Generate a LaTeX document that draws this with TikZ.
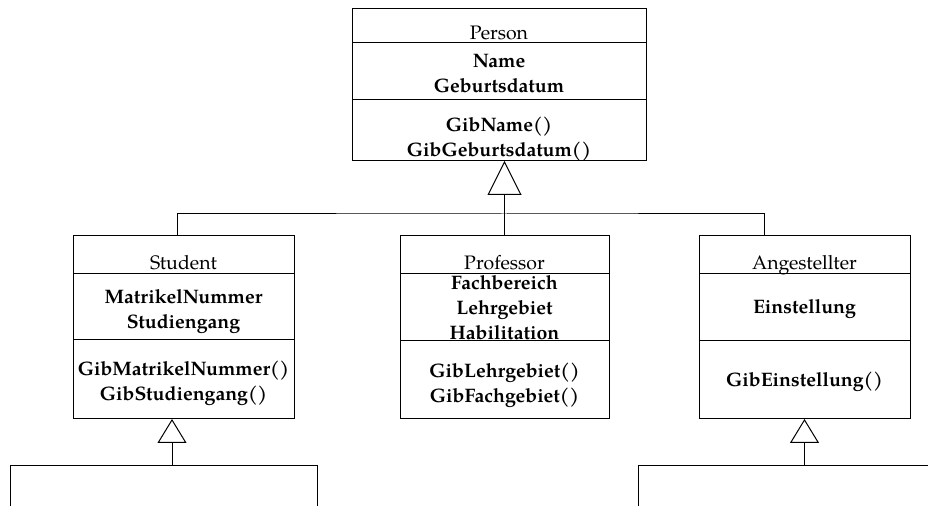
\documentclass[tikz,border=0pt]{standalone}
\usepackage{fontspec}
\setmainfont{TeX Gyre Pagella}
\usetikzlibrary{positioning,arrows.meta}

\tikzstyle{part} = [
        rectangle,
        draw=black,
        line width=0.5pt,
        inner sep=0pt,
        outer sep=0pt,
        align=center,
        font=\fontsize{9.75}{12.5}\selectfont\bfseries,
    ]
\tikzstyle{classname} = [
        part,
        font=\fontsize{9.75}{12.5}\selectfont,
    ]
\tikzstyle{members} = [
        inner sep=0pt,
        align=center,
        font=\fontsize{9.75}{12.5}\selectfont\bfseries,
    ]
\tikzstyle{line} = [line width=0.5pt]
\tikzstyle{inherit} = [line width=0.5pt,-{Triangle[open,length=12pt,width=14.5pt]}]

\begin{document}
\begin{tikzpicture}
            \useasboundingbox (0,0) rectangle (464pt,-253pt);
            \clip (0,0) rectangle (464pt,-253pt);
            % Person
            \node [classname, minimum width=147pt, text height=15.5pt, text depth=1.5pt] (person) at (249.5pt,-13pt) {Person};
            \node [part, below=0pt of person, minimum width=147pt, minimum height=28.5pt,
                label={[members, yshift=-1pt]center:{Name\\Geburtsdatum}}] (personattr) {};
            \node [part, below=0pt of personattr, minimum width=147pt, minimum height=30.5pt,
                label={[members, yshift=-4.5pt]center:{GibName()\\GibGeburtsdatum()}}] (personops) {};
            % Student
            \node [classname, minimum width=110.5pt, text height=17pt, text depth=2pt] (stud) at (91.75pt,-127.5pt) {Student};
            \node [part, below=0pt of stud, minimum width=110.5pt, minimum height=33pt,
                label={[members, yshift=-2.5pt]center:{MatrikelNummer\\Studiengang}}] (studattr) {};
            \node [part, below=0pt of studattr, minimum width=110.5pt, minimum height=39.5pt,
                label={[members, yshift=-2pt]center:{GibMatrikelNummer()\\GibStudiengang()}}] (studops) {};
            % Professor
            \node [classname, minimum width=104.5pt, text height=17pt, text depth=2pt] (prof) at (252.25pt,-127.5pt) {Professor};
            \node [part, below=0pt of prof, minimum width=104.5pt, minimum height=33.5pt,
                label={[members]center:{Fachbereich\\Lehrgebiet\\Habilitation}}] (profattr) {};
            \node [part, below=0pt of profattr, minimum width=104.5pt, minimum height=39pt,
                label={[members, yshift=-2.5pt]center:{GibLehrgebiet()\\GibFachgebiet()}}] (profops) {};
            % Angestellter
            \node [classname, minimum width=105.5pt, text height=17pt, text depth=2pt] (ang) at (402.25pt,-127.5pt) {Angestellter};
            \node [part, below=0pt of ang, minimum width=105.5pt, minimum height=33.5pt,
                label={[members, yshift=-1pt]center:Einstellung}] (angattr) {};
            \node [part, below=0pt of angattr, minimum width=105.5pt, minimum height=39pt,
                label={[members, yshift=-1pt]center:GibEinstellung()}] (angops) {};
            % cut-off subclasses
            \node [part, anchor=north west, minimum width=153.5pt, minimum height=40pt] (studsub) at (5pt,-233pt) {};
            \node [part, anchor=north west, minimum width=200pt, minimum height=40pt] (angsub) at (319pt,-233pt) {};
            % inheritance
            \coordinate [above=11pt of prof.north] (split);
            \draw [line] ([xshift=-3.25pt]stud.north) |- (split) -| ([xshift=-20.25pt]ang.north);
            \draw [line] (prof.north) -- (split);
            \draw [inherit, -{Triangle[open,length=17pt,width=17pt]}] (split) -- (split |- personops.south);
            \coordinate [xshift=-5.75pt] (studtip) at (studops.south);
            \draw [inherit] (studtip |- studsub.north) -- (studtip);
            \draw [inherit] (angops.south |- angsub.north) -- (angops.south);
        \end{tikzpicture}
\end{document}
